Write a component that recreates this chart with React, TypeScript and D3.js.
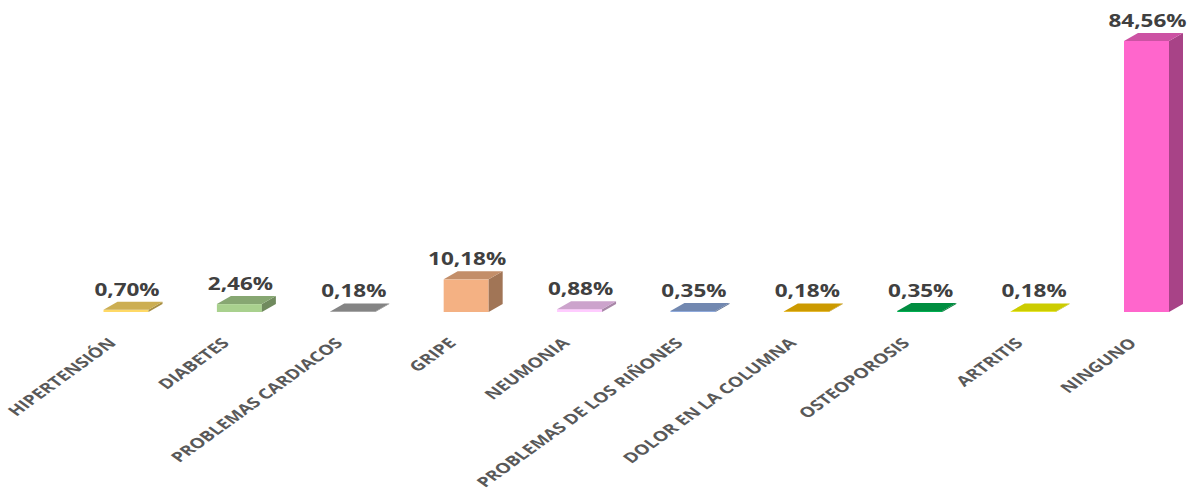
import React from "react";
import * as d3 from "d3";

const categories = [
  "HIPERTENSIÓN",
  "DIABETES",
  "PROBLEMAS CARDIACOS",
  "GRIPE",
  "NEUMONIA",
  "PROBLEMAS DE LOS RIÑONES",
  "DOLOR EN LA COLUMNA",
  "OSTEOPOROSIS",
  "ARTRITIS",
  "NINGUNO",
];
const values = [0.7, 2.46, 0.18, 10.18, 0.88, 0.35, 0.18, 0.35, 0.18, 84.56];
const valueLabels = ["0,70%", "2,46%", "0,18%", "10,18%", "0,88%", "0,35%", "0,18%", "0,35%", "0,18%", "84,56%"];
const colors = ["#FFD966", "#A9D18E", "#A5A5A5", "#F4B183", "#FFCCFF", "#8FAADC", "#FFC000", "#00B050", "#FFFF00", "#FF66CC"];

const W = 1193;
const H = 491;

function shade(c: string, f: number) {
  const col = d3.rgb(c);
  return d3.rgb(col.r * f, col.g * f, col.b * f).formatHex();
}

export default function App() {
  const x = d3.scalePoint<string>().domain(categories).range([126, 1146.5]);
  const y = d3.scaleLinear().domain([0, 84.56]).range([312, 41]);
  const bw = 45;
  const dx = 14;
  const dy = 8;

  return (
    <svg
      width={W}
      height={H}
      style={{ position: "absolute", left: 0, top: 0, background: "#fff" }}
    >
      {categories.map((c, i) => {
        const cx = x(c)!;
        const x0 = cx - bw / 2;
        const x1 = cx + bw / 2;
        const yb = y(0);
        const yt = y(values[i]);
        const front = colors[i];
        const top = shade(front, 0.8);
        const side = shade(front, 0.66);
        const topPts = `${x0},${yt} ${x1},${yt} ${x1 + dx},${yt - dy} ${x0 + dx},${yt - dy}`;
        const sidePts = `${x1},${yb} ${x1},${yt} ${x1 + dx},${yt - dy} ${x1 + dx},${yb - dy}`;
        return (
          <g key={c}>
            <rect x={x0} y={yt} width={bw} height={Math.max(yb - yt, 0)} fill={front} />
            <polygon points={sidePts} fill={side} />
            <polygon points={topPts} fill={top} />
            <text
              transform={`translate(${cx + 1},${yt - dy - 6}) scale(1.25,1)`}
              textAnchor="middle"
              fontFamily="'Open Sans', sans-serif"
              fontWeight={700}
              fontSize={18}
              fill="#404040"
            >
              {valueLabels[i]}
            </text>
            <text
              transform={`translate(${cx - 9},${344}) scale(1.38,1) rotate(-45)`}
              textAnchor="end"
              fontFamily="'Open Sans', sans-serif"
              fontWeight={700}
              fontSize={14}
              fill="#595959"
            >
              {c}
            </text>
          </g>
        );
      })}
    </svg>
  );
}
